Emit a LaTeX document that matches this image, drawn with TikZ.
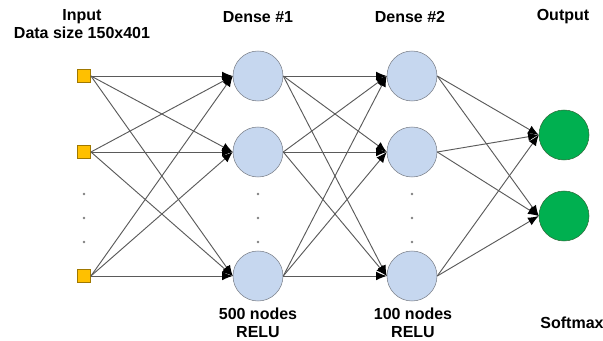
\documentclass[tikz,border=0pt]{standalone}
\usepackage{fontspec}
\setmainfont{Liberation Sans}
\usetikzlibrary{arrows.meta}
\definecolor{inpfill}{HTML}{FFC000}
\definecolor{inpline}{HTML}{A07800}
\definecolor{densefill}{HTML}{C6D7EF}
\definecolor{denseline}{HTML}{7A7F88}
\definecolor{outfill}{HTML}{00B050}
\definecolor{outline}{HTML}{2E6B3A}
\definecolor{edgegray}{HTML}{5A5A5A}
\tikzset{
    inputnode/.style={draw=inpline, fill=inpfill, minimum size=10pt, inner sep=0pt},
    densenode/.style={circle, draw=denseline, fill=densefill, minimum size=37.5pt, inner sep=0pt},
    outnode/.style={circle, draw=outline, fill=outfill, minimum size=37.5pt, inner sep=0pt},
    link/.style={draw=edgegray, line width=0.7pt, -{Latex[black,length=8pt,width=6.5pt]}},
    lbl/.style={font=\fontsize{12}{13.5}\selectfont\bfseries, align=center},
    vdot/.style={circle, fill=gray, inner sep=0pt, minimum size=2pt}
}
\begin{document}
\begin{tikzpicture}[x=0.75pt,y=0.75pt,yscale=-1,xscale=1]
            \useasboundingbox (0,0) rectangle (603,341);
            %input layer
            \foreach \i/\y in {1/76, 2/152, 3/276} {
                \node[inputnode] (inp\i) at (84, \y) {};
            }
            %hidden layers
            \foreach \i/\y in {1/76, 2/152, 3/276} {
                \node[densenode] (dA\i) at (258, \y) {};
                \node[densenode] (dB\i) at (412, \y) {};
            }
            %output layer
            \node[outnode] (out1) at (564, 135) {};
            \node[outnode] (out2) at (564, 216) {};
            %
            %skipped nodes
            \foreach \x in {84, 258, 412} {
                \foreach \y in {194, 218, 242} {
                    \node[vdot] (dot-\x-\y) at (\x, \y) {};
                }
            }
            %
            %connections (east side to west side)
            \foreach \i in {1, 2, 3} {
                \foreach \j in {1, 2, 3} {
                    \draw[link] (inp\i.east) -- (dA\j.west);
                    \draw[link] (dA\i.east) -- (dB\j.west);
                }
                \draw[link] (dB\i.east) -- (out1.west);
                \draw[link] (dB\i.east) -- (out2.west);
            }
            %
            %labels
            \node[lbl] (lblin) at (82, 24) {Input\\Data size 150x401};
            \node[lbl] (lbldA) at (258, 17) {Dense \#1};
            \node[lbl] (lbldB) at (410, 17) {Dense \#2};
            \node[lbl] (lblout) at (563, 17) {Output};
            \node[lbl] (lblnA) at (258, 323) {500 nodes\\RELU};
            \node[lbl] (lblnB) at (413, 323) {100 nodes\\RELU};
            \node[lbl] (lblsoft) at (572, 323) {Softmax};
            %
        \end{tikzpicture}
\end{document}
